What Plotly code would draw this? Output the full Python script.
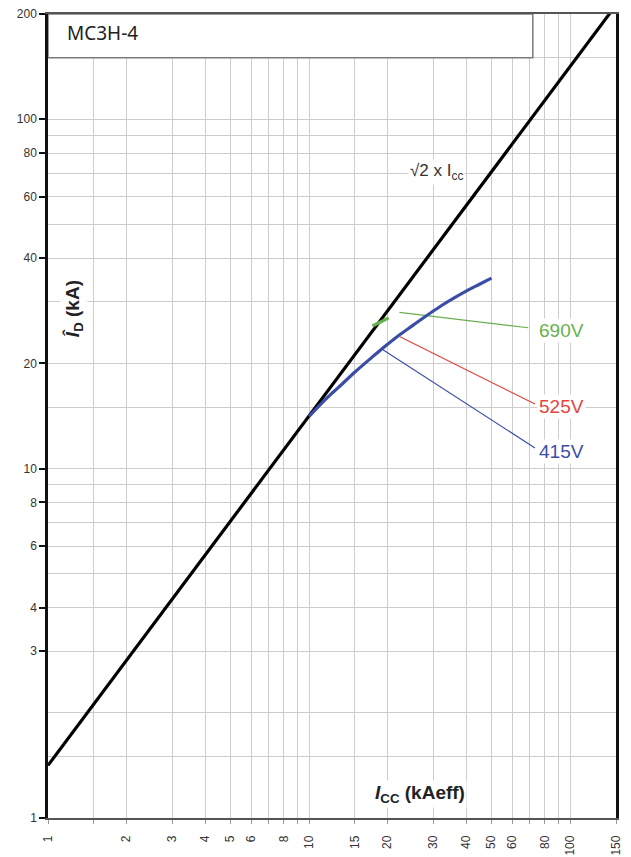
import math
import plotly.graph_objects as go

# Axis ticks (labelled) and extra grid lines (unlabelled)
x_ticks = [1, 2, 3, 4, 5, 6, 8, 10, 15, 20, 30, 40, 50, 60, 80, 100, 150]
x_grid_extra = [1.5, 7, 9, 70, 90]
y_ticks = [1, 3, 4, 6, 8, 10, 20, 40, 60, 80, 100, 200]
y_grid_extra = [1.5, 2, 5, 7, 9, 15, 30, 50, 70, 90, 150]

# Peak current limit line: I_D = sqrt(2) x I_cc
icc_limit = [1, 150]
id_limit = [math.sqrt(2) * v for v in icc_limit]

# Let-through peak current of the MC3H-4 (415 V curve)
icc_415 = [10, 11, 12, 13, 15, 17, 19, 22, 25, 28, 32, 36, 40, 45, 50]
id_415 = [14.1, 15.2, 16.2, 17.1, 18.9, 20.5, 22.0, 24.0, 25.7, 27.3, 29.2, 30.8, 32.2, 33.7, 35.1]

# Short 690 V segment
icc_690 = [17.5, 20.2]
id_690 = [25.6, 27.0]

# Leader lines: curve point -> label
lead_415 = ([19.0, 73.4], [22.0, 11.45])
lead_525 = ([22.3, 73.4], [23.85, 15.3])
lead_690 = ([22.2, 69.2], [28.0, 25.3])

# Title box
box_x = [1, 72, 72, 1, 1]
box_y = [150, 150, 200, 200, 150]

BLUE = "#3b4ea6"
RED = "#e4453d"
GREEN = "#68b04e"

fig = go.Figure()

fig.add_trace(go.Scatter(x=box_x, y=box_y, mode="lines", fill="toself",
                         fillcolor="white", line=dict(color="#7a7a7a", width=1.5),
                         hoverinfo="skip"))
fig.add_trace(go.Scatter(x=lead_690[0], y=lead_690[1], mode="lines",
                         line=dict(color=GREEN, width=1.2)))
fig.add_trace(go.Scatter(x=lead_525[0], y=lead_525[1], mode="lines",
                         line=dict(color=RED, width=1.2)))
fig.add_trace(go.Scatter(x=lead_415[0], y=lead_415[1], mode="lines",
                         line=dict(color=BLUE, width=1.2)))
fig.add_trace(go.Scatter(x=icc_limit, y=id_limit, mode="lines",
                         line=dict(color="black", width=3.2)))
fig.add_trace(go.Scatter(x=icc_415, y=id_415, mode="lines",
                         line=dict(color=BLUE, width=3.2, shape="spline")))
fig.add_trace(go.Scatter(x=icc_690, y=id_690, mode="lines",
                         line=dict(color=GREEN, width=3.2)))

TXT = "Liberation Sans, Arial, sans-serif"


def ann(x, y, text, size, color, xanchor="center", angle=0, bg="white",
        family=TXT):
    fig.add_annotation(x=math.log10(x), y=math.log10(y), xref="x", yref="y",
                       text=text, showarrow=False, xanchor=xanchor, yanchor="middle",
                       textangle=angle, bgcolor=bg, borderpad=1,
                       font=dict(family=family, size=size, color=color))


ann(1.16, 176, "MC3H-4", 19, "#222222", xanchor="left", bg="rgba(0,0,0,0)",
    family="Noto Sans, Open Sans, sans-serif")
ann(30.9, 70.6, "√2 x I<sub>cc</sub>", 17, "#333333")
ann(74.7, 24.9, "690V", 19, GREEN, xanchor="left")
ann(74.7, 15.1, "525V", 19, RED, xanchor="left")
ann(74.7, 11.2, "415V", 19, BLUE, xanchor="left")
ann(1.258, 28.6, "<b><i>Î</i><sub>D</sub> (kA)</b>", 19, "#222222", angle=-90)
ann(26.6, 1.17, "<b><i>I</i><sub>CC</sub> (kAeff)</b>", 19, "#222222")

fig.update_layout(
    width=631, height=857,
    margin=dict(l=48, r=15, t=14, b=39),
    paper_bgcolor="white", plot_bgcolor="white",
    showlegend=False,
    xaxis=dict(
        type="log", range=[0, math.log10(150)], automargin=False,
        tickmode="array", tickvals=x_ticks, ticktext=[str(v) for v in x_ticks],
        tickangle=-90, ticks="outside", ticklen=4, tickcolor="#999999",
        ticklabelstandoff=7,
        tickfont=dict(family=TXT, size=12, color="#333333"),
        showgrid=True, gridcolor="#cdcdcd", gridwidth=1,
        minor=dict(tickmode="array", tickvals=x_grid_extra, showgrid=True,
                   gridcolor="#cdcdcd", gridwidth=1, ticks="outside", ticklen=4,
                   tickcolor="#999999"),
        showline=True, linecolor="#555555", linewidth=1.5, mirror=True,
        zeroline=False,
    ),
    yaxis=dict(
        type="log", range=[0, math.log10(200)], automargin=False,
        tickmode="array", tickvals=y_ticks, ticktext=[str(v) for v in y_ticks],
        ticks="outside", ticklen=6, tickwidth=1.5, tickcolor="#111111",
        tickfont=dict(family=TXT, size=12, color="#333333"),
        showgrid=True, gridcolor="#cdcdcd", gridwidth=1,
        minor=dict(tickmode="array", tickvals=y_grid_extra, showgrid=True,
                   gridcolor="#cdcdcd", gridwidth=1, ticks=""),
        showline=True, linecolor="#111111", linewidth=2.5, mirror=True,
        zeroline=False,
    ),
)

fig.write_html("out.html")
